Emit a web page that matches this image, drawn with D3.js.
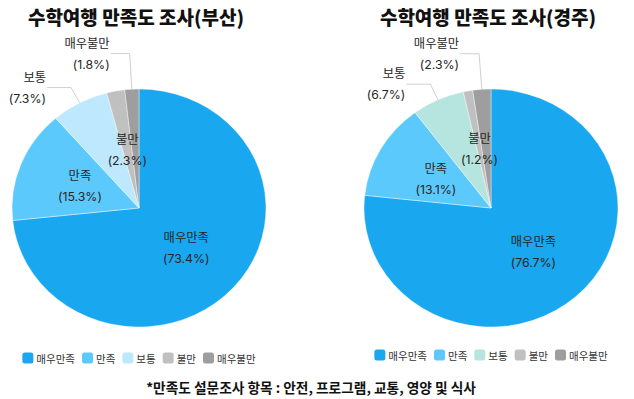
<!DOCTYPE html>
<html>
<head>
<meta charset="utf-8">
<script src="https://cdn.jsdelivr.net/npm/d3@7"></script>
<style>
  body { margin: 0; background: #fff; }
  svg text { font-family: "Noto Sans CJK KR", "Noto Sans", sans-serif; }
  svg text.lbl { font-family: Inter, "Noto Sans CJK KR", sans-serif; }
</style>
</head>
<body>
<svg id="chart" width="634" height="399"></svg>
<script>
// categories and values (percent)
const categories = ['매우만족', '만족', '보통', '불만', '매우불만'];
const busanValues = [73.4, 15.3, 7.3, 2.3, 1.8];
const gyeongjuValues = [76.7, 13.1, 6.7, 1.2, 2.3];
const titles = ['수학여행 만족도 조사(부산)', '수학여행 만족도 조사(경주)'];
const footnote = '*만족도 설문조사 항목 : 안전, 프로그램, 교통, 영양 및 식사';

const busanColors = ['#19a7ef', '#5cc9fd', '#bde8fd', '#c0c0c0', '#9e9e9e'];
const gyeongjuColors = ['#19a7ef', '#5cc9fd', '#b6e4df', '#c0c0c0', '#9e9e9e'];

// which slices get an outside label with a leader line
// (elbow radius as a fraction of the pie radius, horizontal line length)
const outside = {
    '보통': { elbow: 1.145, run: 24 },
    '매우불만': { elbow: 1.30, run: 19 }
};

const svg = d3.select('#chart');
const rx = 127, ry = 119;

const charts = [
    { values: busanValues, colors: busanColors, title: titles[0], cx: 139, cy: 208, legendY: 358 },
    { values: gyeongjuValues, colors: gyeongjuColors, title: titles[1], cx: 491, cy: 208, legendY: 355 }
];

const pie = d3.pie().sort(null).value(d => d.value);
const arc = d3.arc().innerRadius(0).outerRadius(rx);

function drawPie(c) {
    const data = categories.map((name, i) => ({ name: name, value: c.values[i], color: c.colors[i] }));
    const arcs = pie(data);

    // point on the (slightly squashed) pie at angle a, fraction f of radius
    const pt = (a, f) => [c.cx + rx * f * Math.sin(a), c.cy - ry * f * Math.cos(a)];

    svg.append('text')
        .attr('x', c.cx - 3)
        .attr('y', 16)
        .attr('text-anchor', 'middle')
        .attr('dominant-baseline', 'central')
        .style('font-size', '19px')
        .style('font-weight', 900)
        .style('fill', '#111')
        .text(c.title);

    const g = svg.append('g')
        .attr('transform', `translate(${c.cx},${c.cy}) scale(1,${ry / rx})`);

    g.selectAll('path')
        .data(arcs)
        .enter()
        .append('path')
        .attr('d', arc)
        .attr('fill', d => d.data.color)
        .attr('stroke', '#fff')
        .attr('stroke-width', 0.4)
        .attr('vector-effect', 'non-scaling-stroke');

    const labels = svg.append('g');
    arcs.forEach(d => {
        const mid = (d.startAngle + d.endAngle) / 2;
        const pct = '(' + d.data.value.toFixed(1) + '%)';
        const out = outside[d.data.name];
        let x, y, anchor;
        if (out) {
            const p0 = pt(mid, 1);
            const p1 = pt(mid, out.elbow);
            const p2 = [p1[0] - out.run, p1[1]];
            labels.append('polyline')
                .attr('points', [p0, p1, p2].map(p => p.join(',')).join(' '))
                .attr('fill', 'none')
                .attr('stroke', '#d0d0d0')
                .attr('stroke-width', 1);
            x = p2[0] - 1;
            y = p2[1];
            anchor = 'end';
        } else {
            [x, y] = pt(mid, 0.5);
            anchor = 'middle';
        }
        const t = labels.append('text')
            .attr('class', 'lbl')
            .attr('text-anchor', anchor)
            .style('font-size', '12.3px')
            .style('fill', '#262626');
        t.append('tspan').attr('x', x).attr('y', y - 10.5)
            .attr('dominant-baseline', 'central').text(d.data.name);
        t.append('tspan').attr('x', x).attr('y', y + 10.5)
            .attr('dominant-baseline', 'central').text(pct);
    });

    // legend, centred under the pie
    const lg = svg.append('g');
    let xPos = 0;
    categories.forEach((name, i) => {
        const item = lg.append('g').attr('transform', `translate(${xPos},0)`);
        item.append('rect')
            .attr('x', 0).attr('y', -5.5)
            .attr('width', 11).attr('height', 11)
            .attr('rx', 2.5)
            .attr('fill', c.colors[i]);
        const txt = item.append('text')
            .attr('x', 14)
            .attr('y', 0)
            .attr('dominant-baseline', 'central')
            .style('font-size', '10.5px')
            .style('fill', '#333')
            .text(name);
        xPos += 14 + txt.node().getComputedTextLength() + 7;
    });
    const w = xPos - 7;
    lg.attr('transform', `translate(${c.cx - w / 2},${c.legendY})`);
}

charts.forEach(drawPie);

svg.append('text')
    .attr('x', 311)
    .attr('y', 387)
    .attr('text-anchor', 'middle')
    .attr('dominant-baseline', 'central')
    .style('font-size', '13.7px')
    .style('font-weight', 700)
    .style('fill', '#111')
    .text(footnote);
</script>
</body>
</html>
